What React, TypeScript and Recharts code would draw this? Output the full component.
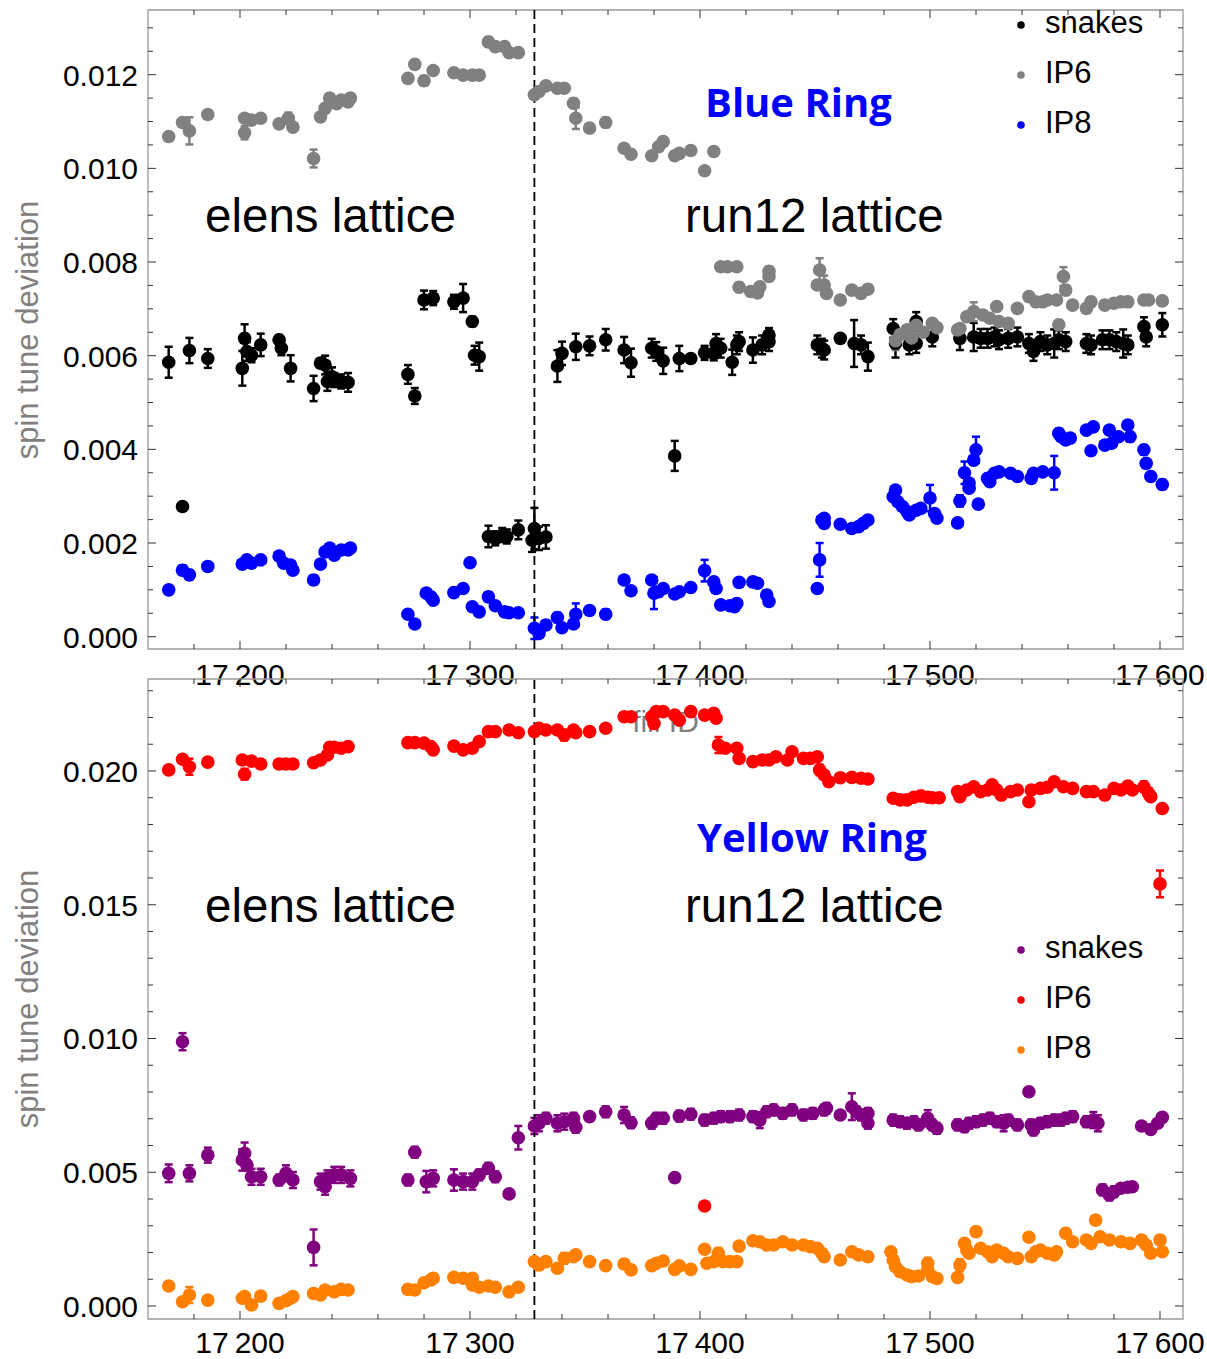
import { ErrorBar, ReferenceArea, ReferenceLine, Scatter, ScatterChart, XAxis, YAxis } from "recharts";

// [fill, spin tune deviation, error]
type Row = [number, number, number];

const blueSnakes: Row[] = [
  [17169, 0.00586, 0.00033], [17175, 0.00278, 0], [17178, 0.00611, 0.00027], [17186, 0.00594, 0.0002],
  [17201, 0.00573, 0.00037], [17202, 0.00637, 0.0003], [17203, 0.00609, 0.0002], [17205, 0.00601, 0.00015],
  [17209, 0.00623, 0.00024], [17217, 0.00634, 0.0001], [17218, 0.00616, 0.00015], [17222, 0.00573, 0.00028],
  [17232, 0.0053, 0.00027], [17235, 0.00584, 0.0001], [17237, 0.0058, 0.0002], [17238, 0.00545, 0.0002],
  [17240, 0.00555, 0.0002], [17241, 0.00548, 0.00015], [17244, 0.00545, 0.00015], [17247, 0.00543, 0.0002],
  [17273, 0.0056, 0.0002], [17276, 0.00514, 0.00017], [17280, 0.00719, 0.0002], [17284, 0.00723, 0.00015],
  [17293, 0.00715, 0.00015], [17297, 0.00723, 0.0003], [17301, 0.00673, 0.0001], [17302, 0.00601, 0.0002],
  [17304, 0.00598, 0.0003], [17308, 0.00214, 0.00023], [17311, 0.0021, 0.00015], [17314, 0.00217, 0.00015],
  [17316, 0.00214, 0.00015], [17321, 0.00228, 0.0002], [17328, 0.00231, 0.00044], [17327, 0.00206, 0.00025],
  [17330, 0.0021, 0.00025], [17333, 0.00213, 0.00025], [17338, 0.00578, 0.00034], [17340, 0.00605, 0.00025],
  [17346, 0.00619, 0.00028], [17352, 0.00621, 0.0002], [17359, 0.00634, 0.00023], [17367, 0.00612, 0.00028],
  [17370, 0.00585, 0.0003], [17379, 0.00616, 0.0002], [17381, 0.00609, 0.0002], [17384, 0.00589, 0.00028],
  [17389, 0.00386, 0.00032], [17391, 0.00594, 0.00027], [17396, 0.00594, 0], [17402, 0.00606, 0.00015],
  [17406, 0.00605, 0.00015], [17407, 0.00626, 0.0002], [17409, 0.00616, 0.0002], [17414, 0.00586, 0.00027],
  [17416, 0.00623, 0.0002], [17417, 0.0063, 0.0002], [17423, 0.00612, 0.00027], [17427, 0.00623, 0.0002],
  [17430, 0.0063, 0.0002], [17430, 0.00644, 0.00015], [17451, 0.00623, 0.0002], [17453, 0.00616, 0.0002],
  [17454, 0.00612, 0.0002], [17461, 0.00637, 0], [17467, 0.00626, 0.0005], [17470, 0.00623, 0.0002],
  [17473, 0.00598, 0.0003], [17484, 0.00658, 0.0002], [17485, 0.00626, 0.0003], [17491, 0.00623, 0.0002],
  [17494, 0.00626, 0.0002], [17494, 0.00673, 0.0002], [17501, 0.0064, 0.0002], [17513, 0.00637, 0.00025],
  [17519, 0.0064, 0.0003], [17522, 0.00637, 0.0002], [17525, 0.00637, 0.0002], [17528, 0.0064, 0.0002],
  [17530, 0.00634, 0.0002], [17534, 0.00637, 0.0002], [17538, 0.0064, 0.0002], [17543, 0.00626, 0.0002],
  [17545, 0.00609, 0.0002], [17548, 0.0063, 0.0002], [17551, 0.00623, 0.0002], [17554, 0.00626, 0.0003],
  [17556, 0.00634, 0.0002], [17559, 0.0063, 0.0002], [17568, 0.00626, 0.0002], [17570, 0.00623, 0.0002],
  [17575, 0.00634, 0.0002], [17578, 0.00634, 0.0002], [17581, 0.0063, 0.0002], [17584, 0.00626, 0.0003],
  [17586, 0.00623, 0.0002], [17593, 0.00662, 0.0002], [17594, 0.0064, 0.0002], [17601, 0.00666, 0.00025],
];

const blueIP6: Row[] = [
  [17169, 0.01068, 0], [17175, 0.01098, 0], [17178, 0.0108, 0.00029], [17186, 0.01115, 0],
  [17202, 0.01107, 0], [17202, 0.01076, 0.00014], [17205, 0.01103, 0], [17209, 0.01107, 0],
  [17217, 0.01095, 0], [17221, 0.01107, 0.00012], [17223, 0.01088, 0], [17232, 0.01021, 0.00019],
  [17235, 0.0111, 0], [17237, 0.01128, 0], [17239, 0.0115, 0], [17242, 0.01138, 0],
  [17244, 0.01146, 0], [17247, 0.01142, 0], [17248, 0.0115, 0], [17273, 0.01192, 0],
  [17276, 0.01222, 0], [17280, 0.01187, 0.0001], [17284, 0.01209, 0], [17293, 0.01204, 0],
  [17297, 0.01199, 0], [17301, 0.01199, 0], [17304, 0.01199, 0], [17308, 0.0127, 0.0001],
  [17311, 0.0126, 0], [17315, 0.0126, 0], [17317, 0.01247, 0], [17321, 0.01247, 0],
  [17328, 0.01157, 0], [17330, 0.01164, 0], [17333, 0.01176, 0], [17338, 0.01171, 0],
  [17341, 0.01171, 0], [17345, 0.01139, 0.0001], [17346, 0.01107, 0.00023], [17352, 0.01086, 0],
  [17359, 0.01098, 0.0001], [17367, 0.01043, 0], [17370, 0.0103, 0], [17379, 0.01027, 0],
  [17382, 0.01046, 0], [17384, 0.01057, 0], [17389, 0.01027, 0], [17391, 0.01032, 0],
  [17396, 0.01038, 0], [17402, 0.00995, 0], [17406, 0.01036, 0], [17409, 0.0079, 0],
  [17412, 0.0079, 0], [17416, 0.0079, 0], [17417, 0.00746, 0.0001], [17422, 0.00737, 0],
  [17425, 0.00734, 0], [17426, 0.00747, 0], [17430, 0.00769, 0], [17430, 0.0078, 0.0001],
  [17452, 0.00783, 0.00025], [17451, 0.00751, 0], [17454, 0.00751, 0.0002], [17455, 0.00733, 0],
  [17461, 0.00719, 0], [17466, 0.0074, 0], [17470, 0.00733, 0], [17473, 0.00742, 0],
  [17485, 0.00632, 0.0002], [17487, 0.00645, 0], [17490, 0.00655, 0], [17492, 0.00638, 0],
  [17494, 0.00665, 0], [17497, 0.0065, 0], [17501, 0.00669, 0], [17503, 0.0066, 0],
  [17512, 0.00655, 0], [17513, 0.00658, 0], [17516, 0.00683, 0], [17519, 0.00694, 0.0002],
  [17523, 0.00687, 0], [17526, 0.0068, 0], [17530, 0.00673, 0], [17534, 0.00669, 0],
  [17529, 0.00705, 0], [17538, 0.00701, 0], [17543, 0.00726, 0], [17546, 0.00715, 0],
  [17549, 0.00715, 0], [17551, 0.00719, 0], [17555, 0.00719, 0], [17556, 0.00666, 0.0001],
  [17558, 0.00769, 0.0002], [17559, 0.0074, 0.0001], [17562, 0.00708, 0], [17568, 0.00701, 0],
  [17570, 0.00715, 0.0001], [17576, 0.00708, 0], [17580, 0.00712, 0], [17583, 0.00715, 0],
  [17586, 0.00715, 0.0001], [17593, 0.00719, 0], [17595, 0.00719, 0], [17601, 0.00717, 0],
];

const blueIP8: Row[] = [
  [17169, 0.001, 0], [17175, 0.00142, 0.0001], [17178, 0.00132, 0.0001], [17186, 0.0015, 0],
  [17201, 0.00155, 0], [17203, 0.00164, 0], [17205, 0.00157, 0], [17209, 0.00164, 0],
  [17217, 0.00172, 0], [17219, 0.00157, 0], [17222, 0.00153, 0], [17223, 0.00142, 0],
  [17232, 0.00121, 0.0001], [17235, 0.00155, 0], [17237, 0.00181, 0], [17239, 0.00189, 0],
  [17241, 0.00174, 0], [17244, 0.00185, 0], [17247, 0.00185, 0], [17248, 0.00189, 0],
  [17273, 0.00048, 0], [17276, 0.00027, 0], [17281, 0.00093, 0], [17283, 0.00085, 0],
  [17284, 0.00078, 0], [17293, 0.00094, 0], [17297, 0.00103, 0], [17300, 0.00158, 0],
  [17301, 0.00064, 0], [17304, 0.00053, 0], [17308, 0.00085, 0.0001], [17311, 0.00066, 0],
  [17315, 0.00053, 0], [17317, 0.00051, 0], [17321, 0.00051, 0], [17328, 0.00018, 0.00023],
  [17330, 0.00007, 0], [17333, 0.00025, 0.0001], [17338, 0.00041, 0.0001], [17340, 0.00019, 0],
  [17345, 0.00027, 0], [17346, 0.00048, 0.00023], [17352, 0.00056, 0], [17359, 0.00048, 0.0001],
  [17367, 0.00121, 0], [17370, 0.00098, 0], [17379, 0.00121, 0], [17380, 0.00093, 0.00034],
  [17382, 0.00096, 0.0001], [17384, 0.00103, 0], [17389, 0.00091, 0], [17391, 0.00096, 0],
  [17396, 0.00105, 0], [17402, 0.00141, 0.00023], [17406, 0.00117, 0], [17407, 0.00103, 0],
  [17409, 0.00068, 0], [17413, 0.00066, 0], [17415, 0.00064, 0], [17416, 0.00071, 0],
  [17417, 0.00116, 0], [17423, 0.00117, 0.0001], [17425, 0.00114, 0], [17429, 0.00089, 0.0001],
  [17430, 0.00075, 0], [17451, 0.00103, 0], [17452, 0.00164, 0.00036], [17453, 0.00249, 0],
  [17454, 0.00253, 0], [17454, 0.00242, 0], [17461, 0.0024, 0], [17466, 0.00231, 0],
  [17469, 0.00235, 0], [17471, 0.00242, 0], [17473, 0.00249, 0], [17484, 0.00299, 0],
  [17485, 0.00313, 0], [17486, 0.00288, 0], [17488, 0.00278, 0], [17490, 0.00267, 0],
  [17491, 0.0026, 0], [17494, 0.0027, 0], [17496, 0.00274, 0], [17500, 0.00296, 0.00028],
  [17502, 0.00263, 0], [17503, 0.00253, 0], [17512, 0.00243, 0], [17513, 0.0029, 0.00012],
  [17515, 0.0035, 0.00024], [17517, 0.00317, 0], [17517, 0.00328, 0], [17519, 0.00377, 0.0001],
  [17520, 0.00399, 0.00028], [17521, 0.00283, 0], [17525, 0.00338, 0], [17526, 0.00331, 0],
  [17528, 0.00349, 0], [17530, 0.00352, 0], [17535, 0.00349, 0], [17538, 0.00342, 0],
  [17544, 0.00338, 0], [17545, 0.00349, 0], [17549, 0.00352, 0], [17554, 0.0035, 0.00036],
  [17556, 0.00434, 0.0001], [17557, 0.00427, 0], [17559, 0.0042, 0], [17561, 0.00424, 0],
  [17568, 0.00441, 0], [17570, 0.00397, 0], [17571, 0.00448, 0], [17576, 0.00409, 0],
  [17578, 0.00441, 0], [17579, 0.00413, 0], [17582, 0.00427, 0], [17586, 0.00452, 0],
  [17587, 0.00427, 0.0001], [17593, 0.00399, 0.0001], [17594, 0.0037, 0], [17596, 0.00342, 0],
  [17601, 0.00325, 0.0001],
];

const yellowSnakes: Row[] = [
  [17169, 0.00496, 0.00033], [17175, 0.00988, 0.00032], [17178, 0.00496, 0.0003], [17186, 0.00564, 0.00028],
  [17201, 0.00546, 0.0004], [17202, 0.00571, 0.0004], [17203, 0.00527, 0.0002], [17205, 0.00483, 0.0003],
  [17209, 0.00483, 0.0003], [17217, 0.00471, 0.0002], [17220, 0.00496, 0.0003], [17223, 0.00471, 0.0003],
  [17232, 0.00219, 0.00067], [17235, 0.00465, 0.0003], [17237, 0.00446, 0.0003], [17238, 0.00477, 0.0003],
  [17241, 0.0049, 0.0003], [17244, 0.0049, 0.0003], [17248, 0.00477, 0.0003], [17273, 0.00471, 0.0002],
  [17276, 0.00575, 0.0002], [17281, 0.00465, 0.0004], [17284, 0.00477, 0.0003], [17293, 0.00471, 0.0004],
  [17297, 0.00465, 0.0003], [17301, 0.00465, 0.0003], [17304, 0.0049, 0.0002], [17308, 0.00515, 0.0002],
  [17311, 0.00483, 0.0002], [17317, 0.00419, 0], [17321, 0.00629, 0.00044], [17328, 0.00673, 0.0003],
  [17330, 0.00683, 0.0003], [17333, 0.00702, 0.0002], [17338, 0.00683, 0.0003], [17341, 0.00689, 0.0003],
  [17345, 0.00702, 0.0002], [17346, 0.00668, 0.0002], [17352, 0.00708, 0.0001], [17359, 0.00726, 0.0002],
  [17367, 0.00714, 0.0003], [17370, 0.00685, 0.0002], [17379, 0.00683, 0.0002], [17381, 0.00702, 0.0002],
  [17384, 0.00702, 0.0002], [17389, 0.0048, 0.0001], [17391, 0.0071, 0.0002], [17396, 0.00717, 0.0002],
  [17402, 0.00695, 0.0002], [17406, 0.00702, 0.0002], [17409, 0.00708, 0.0002], [17413, 0.00708, 0.0002],
  [17417, 0.00714, 0.0002], [17423, 0.00708, 0.0002], [17426, 0.00695, 0.0003], [17429, 0.00726, 0.0002],
  [17432, 0.00733, 0.0002], [17436, 0.0072, 0.0002], [17440, 0.00733, 0.0002], [17445, 0.00714, 0.0002],
  [17449, 0.0072, 0.0002], [17454, 0.00733, 0.0002], [17455, 0.00739, 0.0002], [17461, 0.00714, 0],
  [17466, 0.00745, 0.0005], [17468, 0.00726, 0.0002], [17470, 0.00714, 0.0002], [17473, 0.0072, 0.0002],
  [17473, 0.00683, 0.0002], [17484, 0.00695, 0.0002], [17487, 0.00689, 0.0002], [17490, 0.00683, 0.0002],
  [17493, 0.00689, 0.0002], [17495, 0.00677, 0.0002], [17499, 0.00702, 0.0003], [17501, 0.00677, 0.0002],
  [17503, 0.00664, 0.0002], [17512, 0.00677, 0.0002], [17515, 0.0067, 0.0002], [17517, 0.00683, 0.0002],
  [17520, 0.00689, 0.0002], [17523, 0.00695, 0.0002], [17526, 0.00702, 0.0002], [17529, 0.00689, 0.0002],
  [17532, 0.00683, 0.0003], [17534, 0.00695, 0.0002], [17538, 0.00677, 0.0002], [17543, 0.00801, 0],
  [17544, 0.00677, 0.0002], [17545, 0.00658, 0.0002], [17548, 0.00683, 0.0002], [17551, 0.00689, 0.0002],
  [17554, 0.00695, 0.0002], [17557, 0.00695, 0.0002], [17559, 0.00702, 0.0002], [17562, 0.00708, 0.0002],
  [17568, 0.00689, 0.0002], [17571, 0.00695, 0.0003], [17573, 0.00683, 0.0003], [17575, 0.00434, 0.0002],
  [17578, 0.00415, 0.0002], [17580, 0.00427, 0.0002], [17583, 0.0044, 0.0001], [17586, 0.00444, 0.0001],
  [17588, 0.00446, 0.0001], [17592, 0.00673, 0.0001], [17596, 0.0066, 0], [17599, 0.00683, 0],
  [17601, 0.00705, 0.0001],
];

const yellowIP6: Row[] = [
  [17169, 0.02004, 0], [17175, 0.02044, 0], [17178, 0.02016, 0.0003], [17186, 0.02033, 0],
  [17201, 0.02041, 0], [17202, 0.01988, 0.0002], [17205, 0.02037, 0], [17209, 0.02026, 0],
  [17217, 0.02026, 0], [17220, 0.02026, 0], [17223, 0.02026, 0], [17232, 0.02031, 0],
  [17235, 0.02041, 0], [17238, 0.0206, 0], [17239, 0.02089, 0], [17241, 0.02089, 0],
  [17244, 0.02085, 0], [17247, 0.02091, 0], [17273, 0.02106, 0], [17276, 0.02106, 0],
  [17280, 0.02104, 0], [17283, 0.02091, 0], [17284, 0.02079, 0], [17293, 0.02093, 0],
  [17297, 0.02079, 0], [17301, 0.02085, 0], [17304, 0.0211, 0], [17308, 0.02147, 0],
  [17311, 0.02147, 0], [17317, 0.02153, 0], [17321, 0.02143, 0], [17328, 0.02147, 0],
  [17330, 0.0216, 0], [17333, 0.02153, 0], [17338, 0.02153, 0], [17341, 0.02134, 0.0002],
  [17345, 0.02153, 0], [17346, 0.02143, 0], [17352, 0.02147, 0], [17359, 0.0216, 0],
  [17367, 0.02203, 0], [17370, 0.02203, 0], [17379, 0.02203, 0], [17380, 0.02178, 0.0002],
  [17381, 0.02222, 0], [17384, 0.02222, 0], [17389, 0.02209, 0], [17391, 0.0219, 0],
  [17396, 0.02222, 0], [17402, 0.00374, 0], [17402, 0.02209, 0], [17406, 0.02216, 0],
  [17407, 0.02197, 0], [17408, 0.02097, 0.0003], [17411, 0.02085, 0], [17416, 0.02085, 0],
  [17417, 0.02047, 0], [17423, 0.02035, 0], [17427, 0.02041, 0], [17430, 0.02041, 0],
  [17433, 0.02053, 0], [17438, 0.02041, 0], [17440, 0.02072, 0], [17445, 0.02047, 0],
  [17448, 0.02047, 0], [17451, 0.02053, 0], [17452, 0.02004, 0.0002], [17454, 0.01985, 0],
  [17456, 0.0196, 0], [17461, 0.01975, 0], [17466, 0.01976, 0], [17470, 0.01973, 0],
  [17473, 0.0197, 0], [17484, 0.01898, 0], [17487, 0.01892, 0], [17490, 0.01892, 0],
  [17493, 0.01902, 0], [17496, 0.01907, 0], [17499, 0.01902, 0], [17501, 0.019, 0],
  [17504, 0.019, 0], [17512, 0.01923, 0], [17513, 0.01904, 0], [17516, 0.01929, 0],
  [17519, 0.01941, 0], [17522, 0.01923, 0], [17525, 0.01929, 0], [17527, 0.01948, 0],
  [17529, 0.01929, 0], [17531, 0.0191, 0], [17535, 0.01923, 0], [17538, 0.01929, 0],
  [17543, 0.01885, 0], [17544, 0.01929, 0], [17548, 0.01935, 0], [17551, 0.01939, 0],
  [17554, 0.0196, 0], [17558, 0.01941, 0], [17562, 0.01935, 0], [17568, 0.01923, 0],
  [17571, 0.01923, 0], [17576, 0.0191, 0], [17580, 0.01935, 0], [17583, 0.01929, 0],
  [17586, 0.01944, 0], [17588, 0.01929, 0], [17593, 0.01941, 0.0002], [17595, 0.01917, 0.0002],
  [17596, 0.01904, 0], [17601, 0.0186, 0], [17600, 0.01578, 0.0005],
];

const yellowIP8: Row[] = [
  [17169, 0.00075, 0], [17175, 0.00016, 0], [17178, 0.00041, 0.0003], [17186, 0.00022, 0],
  [17201, 0.00029, 0], [17202, 0.00035, 0], [17205, 0.00004, 0], [17209, 0.00037, 0],
  [17217, 0.0001, 0], [17220, 0.0002, 0], [17222, 0.00029, 0], [17223, 0.00035, 0],
  [17232, 0.00047, 0], [17235, 0.00041, 0], [17237, 0.0006, 0], [17241, 0.00053, 0],
  [17244, 0.00062, 0], [17247, 0.0006, 0], [17273, 0.00062, 0], [17276, 0.0006, 0],
  [17280, 0.00087, 0], [17283, 0.00097, 0], [17284, 0.00104, 0], [17293, 0.00107, 0],
  [17297, 0.00104, 0], [17301, 0.00104, 0], [17301, 0.00079, 0], [17304, 0.0007, 0],
  [17308, 0.00075, 0], [17311, 0.0007, 0], [17317, 0.00053, 0], [17321, 0.0007, 0],
  [17328, 0.00166, 0], [17330, 0.00153, 0], [17333, 0.00166, 0], [17338, 0.00141, 0],
  [17341, 0.00178, 0.0002], [17345, 0.00184, 0], [17346, 0.00191, 0], [17352, 0.00166, 0],
  [17359, 0.00151, 0], [17367, 0.00157, 0], [17370, 0.00135, 0], [17379, 0.00151, 0],
  [17381, 0.0016, 0], [17384, 0.00168, 0], [17389, 0.00137, 0], [17391, 0.0015, 0],
  [17396, 0.00137, 0], [17402, 0.00212, 0], [17403, 0.0016, 0], [17406, 0.00166, 0],
  [17408, 0.00197, 0.0002], [17410, 0.00166, 0], [17413, 0.00166, 0], [17416, 0.00166, 0],
  [17417, 0.00224, 0], [17423, 0.00244, 0], [17426, 0.0024, 0], [17429, 0.00228, 0],
  [17432, 0.00228, 0], [17436, 0.0024, 0], [17440, 0.00228, 0], [17445, 0.00228, 0],
  [17448, 0.00222, 0], [17451, 0.00216, 0], [17453, 0.00197, 0], [17454, 0.00184, 0],
  [17461, 0.00172, 0], [17466, 0.00203, 0], [17469, 0.00191, 0], [17473, 0.00184, 0],
  [17483, 0.00203, 0], [17484, 0.00172, 0], [17485, 0.00147, 0], [17487, 0.00128, 0],
  [17490, 0.00116, 0], [17492, 0.0011, 0], [17495, 0.00112, 0], [17499, 0.00135, 0],
  [17499, 0.0016, 0.0002], [17501, 0.0011, 0], [17503, 0.00103, 0], [17512, 0.00107, 0],
  [17513, 0.00153, 0.00022], [17515, 0.00234, 0], [17516, 0.00209, 0], [17517, 0.00197, 0],
  [17520, 0.00278, 0], [17522, 0.00216, 0], [17525, 0.00203, 0], [17527, 0.00184, 0],
  [17529, 0.00209, 0], [17532, 0.00197, 0], [17534, 0.00184, 0], [17538, 0.00178, 0],
  [17543, 0.00257, 0], [17544, 0.00184, 0], [17546, 0.00203, 0], [17548, 0.00209, 0],
  [17551, 0.00197, 0], [17554, 0.00191, 0], [17555, 0.00203, 0], [17559, 0.00272, 0],
  [17562, 0.0024, 0], [17568, 0.00247, 0], [17570, 0.00234, 0], [17572, 0.00321, 0],
  [17574, 0.00259, 0], [17578, 0.00247, 0], [17583, 0.0024, 0], [17587, 0.00234, 0],
  [17592, 0.00247, 0], [17594, 0.00228, 0], [17596, 0.00197, 0], [17600, 0.00247, 0],
  [17601, 0.00203, 0],
];

const xDomain: [number, number] = [17160, 17610];
const xMajor = [17200, 17300, 17400, 17500, 17600];
const xTicks = Array.from({ length: 22 }, (_, i) => 17180 + i * 20);
const latticeSwitch = 17328;

const topYDomain: [number, number] = [-0.000263, 0.013381];
const topYTicks = Array.from({ length: 27 }, (_, i) => (i * 5) / 10000);
const bottomYDomain: [number, number] = [-0.000486, 0.023439];
const bottomYTicks = Array.from({ length: 24 }, (_, i) => i / 1000);

const FONT = "'Liberation Sans', Arial, sans-serif";
const TICK = "#333";
const PLOT_RIGHT = 1183;

const pts = (rows: Row[]) => rows.map(([x, y, err]) => ({ x, y, err }));
const fmtFill = (v: number) => `${Math.floor(v / 1000)}\u2009${String(v % 1000).padStart(3, "0")}`;

const dot = (color: string) => (p: any) => <circle cx={p.cx} cy={p.cy} r={6.8} fill={color} />;

const xTick = (plotTop: number, labelDy: number) => (p: any) => {
  const { x, y, payload } = p;
  const major = xMajor.includes(payload.value);
  const len = major ? 8 : 5;
  return (
    <g>
      <line x1={x} y1={y} x2={x} y2={y - len} stroke={TICK} />
      <line x1={x} y1={plotTop} x2={x} y2={plotTop + len} stroke={TICK} />
      {major && (
        <text x={x} y={y + labelDy} textAnchor="middle" fontSize={30} fill="#000">
          {fmtFill(payload.value)}
        </text>
      )}
    </g>
  );
};

const yTick = (majorStep: number) => (p: any) => {
  const { x, y, payload } = p;
  const major = Math.round(payload.value * 10000) % majorStep === 0;
  const len = major ? 8 : 5;
  return (
    <g>
      <line x1={x} y1={y} x2={x + len} y2={y} stroke={TICK} />
      <line x1={PLOT_RIGHT} y1={y} x2={PLOT_RIGHT - len} y2={y} stroke={TICK} />
      {major && (
        <text x={x - 10} y={y + 11} textAnchor="end" fontSize={30} fill="#000">
          {payload.value.toFixed(3)}
        </text>
      )}
    </g>
  );
};

type Series = { rows: Row[]; color: string };

function Panel(props: {
  top: number;
  height: number;
  plotTop: number;
  axisHeight: number;
  labelDy: number;
  yDomain: [number, number];
  yTicks: number[];
  majorStep: number;
  series: Series[];
  xLabel?: string;
}) {
  const { top, height, plotTop, axisHeight, labelDy, yDomain, yTicks, majorStep, series, xLabel } = props;
  return (
    <div style={{ position: "absolute", left: 0, top }}>
      <ScatterChart width={1207} height={height} margin={{ top: plotTop, right: 24, bottom: 0, left: 88 }}>
        <XAxis
          type="number"
          dataKey="x"
          domain={xDomain}
          allowDataOverflow
          ticks={xTicks}
          interval={0}
          tickSize={0}
          tickMargin={0}
          tickLine={false}
          axisLine={false}
          height={axisHeight}
          tick={xTick(plotTop, labelDy)}
          label={xLabel ? { value: xLabel, position: "insideBottom", offset: 18, fill: "#808080", fontSize: 30 } : undefined}
        />
        <YAxis
          type="number"
          dataKey="y"
          domain={yDomain}
          allowDataOverflow
          ticks={yTicks}
          interval={0}
          tickSize={0}
          tickMargin={0}
          tickLine={false}
          axisLine={false}
          width={60}
          tick={yTick(majorStep)}
        />
        <ReferenceArea
          x1={xDomain[0]}
          x2={xDomain[1]}
          y1={yDomain[0]}
          y2={yDomain[1]}
          fill="none"
          stroke="#999"
          strokeWidth={1.3}
        />
        {series.map((s) => (
          <Scatter key={s.color} data={pts(s.rows)} fill={s.color} shape={dot(s.color)} isAnimationActive={false}>
            <ErrorBar dataKey="err" direction="y" width={4} stroke={s.color} strokeWidth={2.5} />
          </Scatter>
        ))}
        <ReferenceLine x={latticeSwitch} stroke="#000" strokeDasharray="9 5" strokeWidth={1.8} />
      </ScatterChart>
    </div>
  );
}

function LegendItems({ items, y0 }: { items: [string, string][]; y0: number }) {
  return (
    <g>
      {items.map(([name, color], i) => (
        <g key={name}>
          <circle cx={1021} cy={y0 + i * 50} r={3.8} fill={color} />
          <text x={1045} y={y0 + 8 + i * 50} fontSize={31} fill="#000">
            {name}
          </text>
        </g>
      ))}
    </g>
  );
}

export default function App() {
  return (
    <div style={{ position: "absolute", left: 0, top: 0, width: 1207, height: 1359, fontFamily: FONT, background: "#fff" }}>
      <Panel
        top={0}
        height={750}
        plotTop={10}
        axisHeight={101}
        labelDy={36}
        yDomain={topYDomain}
        yTicks={topYTicks}
        majorStep={20}
        xLabel="fill ID"
        series={[
          { rows: blueSnakes, color: "#000000" },
          { rows: blueIP6, color: "#808080" },
          { rows: blueIP8, color: "#0000ff" },
        ]}
      />
      <Panel
        top={650}
        height={709}
        plotTop={29}
        axisHeight={40}
        labelDy={34}
        yDomain={bottomYDomain}
        yTicks={bottomYTicks}
        majorStep={50}
        series={[
          { rows: yellowSnakes, color: "#800080" },
          { rows: yellowIP6, color: "#ff0000" },
          { rows: yellowIP8, color: "#ff8000" },
        ]}
      />
      <svg width={1207} height={1359} style={{ position: "absolute", left: 0, top: 0, pointerEvents: "none" }}>
        <text transform="translate(38,330) rotate(-90)" textAnchor="middle" fontSize={31} fill="#808080">
          spin tune deviation
        </text>
        <text transform="translate(38,999) rotate(-90)" textAnchor="middle" fontSize={31} fill="#808080">
          spin tune deviation
        </text>
        <text x={205} y={232} fontSize={47.5} fill="#000">elens lattice</text>
        <text x={685} y={232} fontSize={47.5} fill="#000">run12 lattice</text>
        <text x={205} y={922} fontSize={47.5} fill="#000">elens lattice</text>
        <text x={685} y={922} fontSize={47.5} fill="#000">run12 lattice</text>
        <text x={705} y={117} fontSize={40} fontWeight={700} fontFamily="'Open Sans', sans-serif" fill="#0000ff">
          Blue Ring
        </text>
        <text x={697} y={852} fontSize={40} fontWeight={700} fontFamily="'Open Sans', sans-serif" fill="#0000ff">
          Yellow Ring
        </text>
        <LegendItems items={[["snakes", "#000000"], ["IP6", "#808080"], ["IP8", "#0000ff"]]} y0={25} />
        <LegendItems items={[["snakes", "#800080"], ["IP6", "#ff0000"], ["IP8", "#ff8000"]]} y0={950} />
      </svg>
    </div>
  );
}
